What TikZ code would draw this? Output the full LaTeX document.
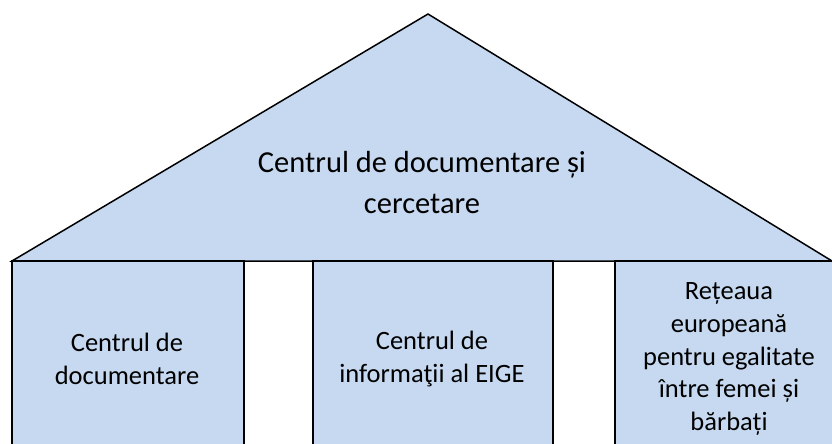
\documentclass[tikz,border=0pt]{standalone}
\usepackage{fontspec}
\setmainfont{Carlito}
\definecolor{fillb}{HTML}{C6D9F1}
\tikzset{part/.style={draw=black,fill=fillb,line width=1.5pt,line join=miter},lab/.style={align=center,font=\fontsize{26.5}{32.7}\selectfont},big/.style={align=center,font=\fontsize{30.5}{41}\selectfont}}
\begin{document}
\begin{tikzpicture}[x=1pt,y=-1pt]
\useasboundingbox (0,0) rectangle (832,444);
\draw[part] (428,14) -- (832,261) -- (12,261) -- cycle;
\draw[part] (12,261) rectangle (244,446);
\draw[part] (313,261) rectangle (553,446);
\draw[part] (615,261) rectangle (834,446);
\node[big] (t) at (422,183) {Centrul de documentare și\\cercetare};
\node[lab] (a) at (127,359) {Centrul de\\documentare};
\node[lab] (b) at (432,359) {Centrul de\\informaţii al EIGE};
\node[lab] (c) at (729,359) {Rețeaua\\europeană\\pentru egalitate\\între femei și\\bărbați};
\end{tikzpicture}
\end{document}
